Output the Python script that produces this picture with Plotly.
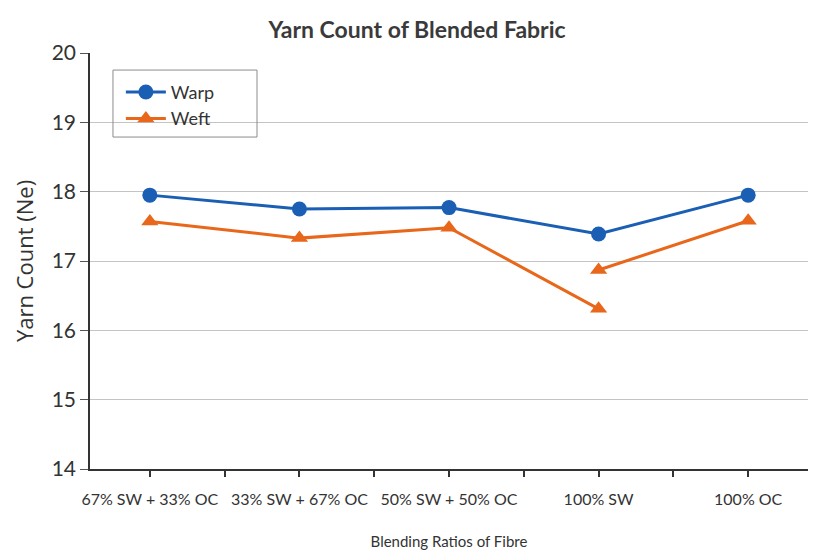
import plotly.graph_objects as go

# Blend categories along the x axis
categories = ["67% SW + 33% OC", "33% SW + 67% OC", "50% SW + 50% OC", "100% SW", "100% OC"]

# Warp yarn count (Ne) per blend
warp_values = [17.95, 17.75, 17.77, 17.39, 17.95]

# Weft yarn count (Ne); 100% SW has two readings, plotted as separate segments
weft_idx = [0, 1, 2, 3, 3, 3, 4]
weft_values = [17.57, 17.33, 17.48, 16.31, None, 16.87, 17.58]

y_ticks = [14, 15, 16, 17, 18, 19, 20]

BLUE = "#1A5FB4"
ORANGE = "#E8671A"
FONT = "Lato"
TXT = "#333333"

fig = go.Figure()
fig.add_trace(go.Scatter(
    x=list(range(len(categories))), y=warp_values, name="Warp",
    mode="lines+markers",
    line=dict(color=BLUE, width=3),
    marker=dict(symbol="circle", size=15, color=BLUE),
))
fig.add_trace(go.Scatter(
    x=weft_idx, y=weft_values, name="Weft",
    mode="lines+markers", connectgaps=False,
    line=dict(color=ORANGE, width=3),
    marker=dict(symbol="triangle-up", size=15, color=ORANGE),
))

# Tick marks at each category and halfway between them
tick_positions = [i * 0.5 for i in range(2 * len(categories) - 1)]
tick_labels = [categories[int(t)] if t == int(t) else "" for t in tick_positions]

# Legend frame drawn as a shape so it can be wider than the entries
fig.add_shape(type="rect", xref="paper", yref="paper",
              x0=0.032, x1=0.2326, y0=0.798, y1=0.959,
              line=dict(color="#8c8c8c", width=1), fillcolor="rgba(0,0,0,0)")

fig.update_layout(
    width=813, height=553,
    margin=dict(l=90, r=5, t=53, b=84),
    paper_bgcolor="white", plot_bgcolor="white",
    font=dict(family=FONT, color=TXT),
    title=dict(text="Yarn Count of Blended Fabric", x=0.513, xanchor="center",
               y=0.946, yanchor="middle", xref="container", yref="container",
               font=dict(family=FONT, size=23, color="#3a3a3a", weight="bold")),
    showlegend=True,
    legend=dict(x=0.043, y=0.95, xanchor="left", yanchor="top",
                bgcolor="rgba(255,255,255,0)", borderwidth=0,
                font=dict(family=FONT, size=18, color=TXT),
                itemwidth=40, tracegroupgap=0),
    xaxis=dict(
        range=[-0.4, 4.4], tickmode="array",
        tickvals=tick_positions, ticktext=tick_labels,
        ticks="outside", ticklen=6, tickcolor="#333333", tickwidth=1.5,
        ticklabelstandoff=9,
        showline=True, linecolor="#333333", linewidth=1.5,
        showgrid=False, zeroline=False,
        tickfont=dict(family=FONT, size=16, color=TXT),
        title=dict(text="Blending Ratios of Fibre", standoff=30,
                   font=dict(family=FONT, size=15, color=TXT)),
    ),
    yaxis=dict(
        range=[14, 20], tickmode="array", tickvals=y_ticks,
        ticks="outside", ticklen=8, tickcolor="#555555",
        showline=True, linecolor="#333333", linewidth=1.5,
        showgrid=True, gridcolor="#c4c4c4", gridwidth=1,
        zeroline=False,
        tickfont=dict(family=FONT, size=21, color=TXT),
        title=dict(text="Yarn Count (Ne)", standoff=12,
                   font=dict(family="Open Sans", size=22, color=TXT)),
    ),
)

fig.write_html("out.html")
